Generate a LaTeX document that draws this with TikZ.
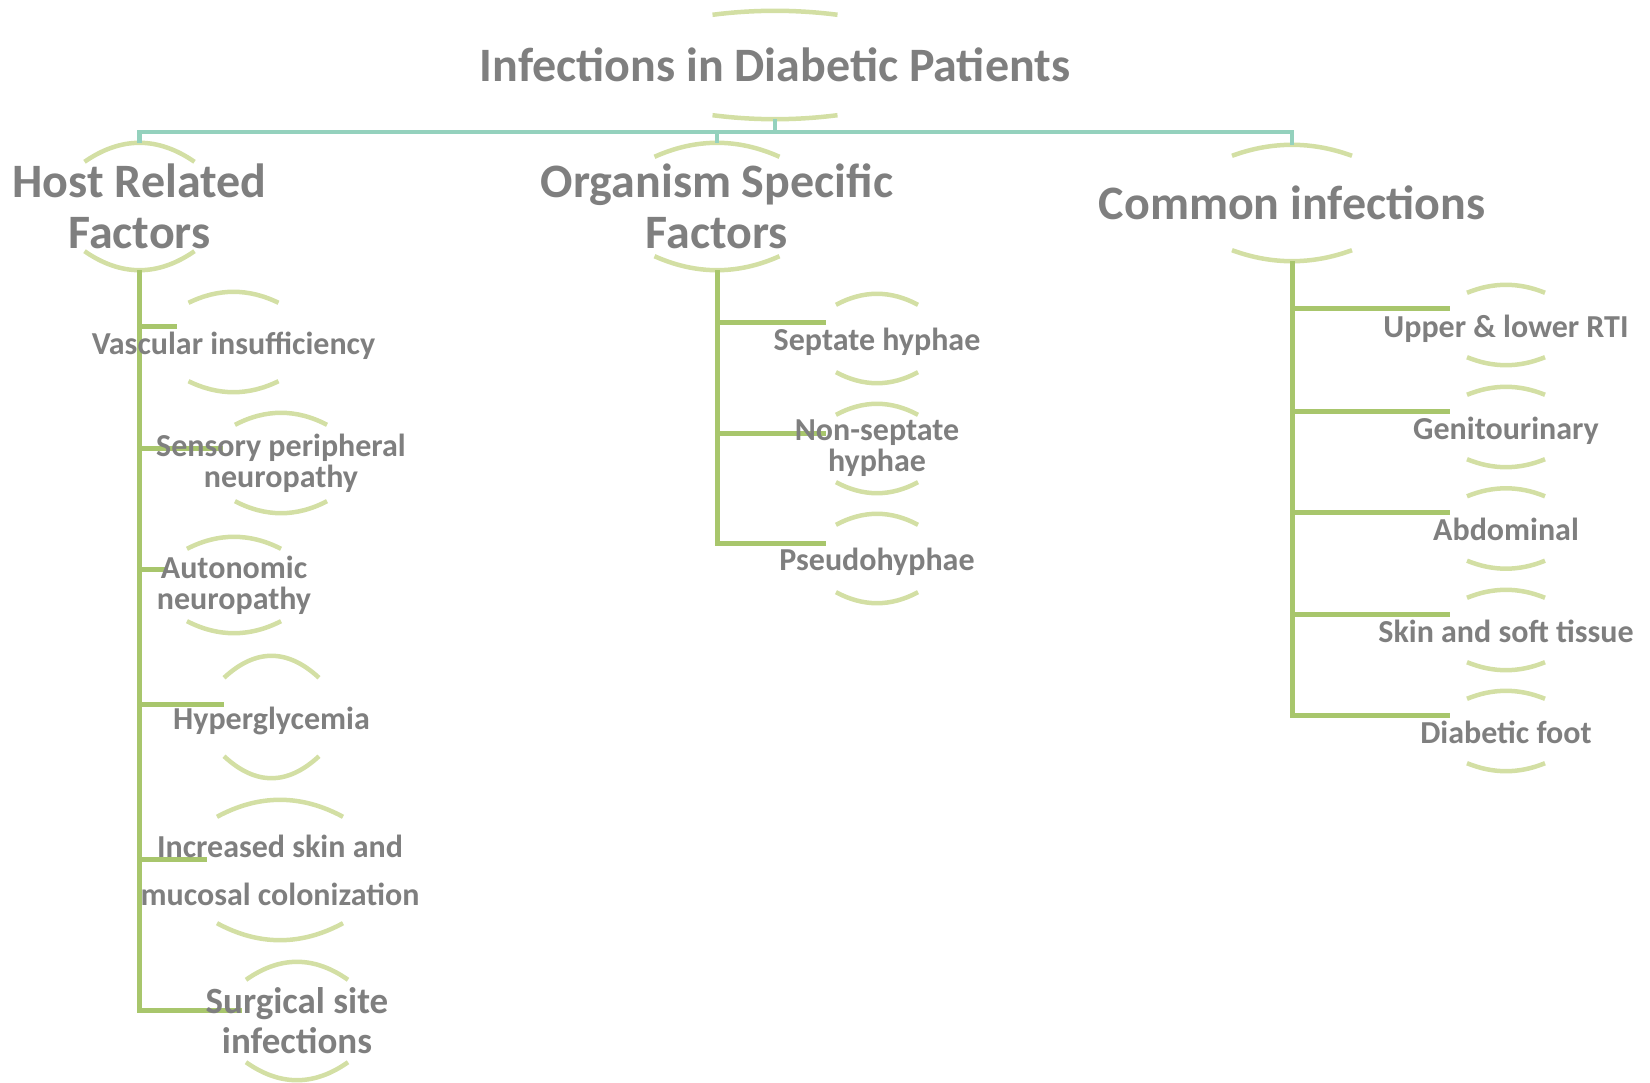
\documentclass[tikz,border=0pt]{standalone}
\usepackage{fontspec}
\setmainfont{Carlito}
\usetikzlibrary{calc}
\usetikzlibrary{backgrounds}

\definecolor{txtgray}{HTML}{7F7F7F}
\definecolor{arcgreen}{HTML}{D3DFA4}
\definecolor{linegreen}{HTML}{A8C66C}
\definecolor{tealline}{HTML}{94D1BD}

% upper and lower arc of a box: node, half width, sag
\newcommand{\boxarcs}[3]{%
  \draw[arcline] ($(#1.north)+(-#2,#3)$) .. controls ($(#1.north)+(-#2/3,-#3/3)$) and ($(#1.north)+(#2/3,-#3/3)$) .. ($(#1.north)+(#2,#3)$);
  \draw[arcline] ($(#1.south)+(-#2,-#3)$) .. controls ($(#1.south)+(-#2/3,#3/3)$) and ($(#1.south)+(#2/3,#3/3)$) .. ($(#1.south)+(#2,-#3)$);
}

\begin{document}
\begin{tikzpicture}[x=1pt,y=-1pt]
        % Define styles for shapes
        \tikzset{
            topbox/.style={inner sep=0pt, text=txtgray, align=center, font=\bfseries\fontsize{48}{51}\selectfont},
            headbox/.style={inner sep=0pt, text=txtgray, align=center, font=\bfseries\fontsize{48}{51}\selectfont},
            itembox/.style={inner sep=0pt, text=txtgray, align=center, font=\bfseries\fontsize{32}{31}\selectfont},
            oneline/.style={text height=27pt, text depth=2.4pt},
            arcline/.style={draw=arcgreen, line width=4.5pt},
            toplink/.style={draw=tealline, line width=4.5pt},
            sublink/.style={draw=linegreen, line width=5pt}
        }
        \useasboundingbox (0,0) rectangle (1650,1083);
        % Draw shapes
        \node[topbox, minimum height=108pt] (top) at (775,65) {Infections in Diabetic Patients};

        \node[headbox, minimum height=127pt] (host) at (139.5,206.5) {Host Related\\Factors};
        \node[headbox, minimum height=127pt] (org) at (717,206.5) {Organism Specific\\Factors};
        \node[headbox, minimum height=116pt] (common) at (1292,203) {Common infections};

        \node[itembox, oneline, minimum height=100pt] (vasc) at (233.5,342) {Vascular insufficiency};
        \node[itembox, minimum height=100pt] (sens) at (281,463) {Sensory peripheral\\neuropathy};
        \node[itembox, minimum height=96pt] (auto) at (234,585) {Autonomic\\neuropathy};
        \node[itembox, oneline, minimum height=122pt] (hyper) at (271.5,717) {Hyperglycemia};
        \node[itembox, minimum height=140pt, font=\bfseries\fontsize{32}{48}\selectfont] (incr) at (280,870) {Increased skin and\\mucosal colonization};
        \node[itembox, minimum height=118pt, font=\bfseries\fontsize{37}{40}\selectfont] (surg) at (297,1021) {Surgical site\\infections};

        \node[itembox, oneline, minimum height=89pt] (sept) at (877,338.5) {Septate hyphae};
        \node[itembox, minimum height=89pt] (nonsept) at (877,448.5) {Non-septate\\hyphae};
        \node[itembox, oneline, minimum height=89pt] (pseudo) at (877,558.5) {Pseudohyphae};

        \node[itembox, oneline, minimum height=80pt] (rti) at (1506,325) {Upper \& lower RTI};
        \node[itembox, oneline, minimum height=80pt] (genito) at (1506,427) {Genitourinary};
        \node[itembox, oneline, minimum height=80pt] (abdo) at (1506,528.5) {Abdominal};
        \node[itembox, oneline, minimum height=80pt] (skin) at (1506,630) {Skin and soft tissue};
        \node[itembox, oneline, minimum height=80pt] (foot) at (1506,731) {Diabetic foot};

        \begin{pgfonlayer}{background}
        % Draw arcs
        \boxarcs{top}{62.5}{4}
        \boxarcs{host}{55}{19}
        \boxarcs{org}{62.5}{14}
        \boxarcs{common}{60}{11}
        \boxarcs{vasc}{45}{11}
        \boxarcs{sens}{46}{12}
        \boxarcs{auto}{47}{12}
        \boxarcs{hyper}{47.5}{22}
        \boxarcs{incr}{63}{17}
        \boxarcs{surg}{51}{18}
        \foreach \n in {sept, nonsept, pseudo}
            \boxarcs{\n}{41}{11};
        \foreach \n in {rti, genito, abdo, skin, foot}
            \boxarcs{\n}{39}{8};
        % Draw lines
        \draw[toplink] (top.south) -- ++(0,13) -| (host.north);
        \draw[toplink] (top.south) -- ++(0,13) -| (org.north);
        \draw[toplink] (top.south) -- ++(0,13) -| (common.north);
        \foreach \n/\dx/\dy in {vasc/56.5/15, sens/58/15, auto/66/16, hyper/47.5/13, incr/73/11, surg/55/11}
            \draw[sublink] (host.south) |- ($(\n.center)+(-\dx,-\dy)$);
        \foreach \n in {sept, nonsept, pseudo}
            \draw[sublink] (org.south) |- ($(\n.center)+(-51,-15.5)$);
        \foreach \n in {rti, genito, abdo, skin, foot}
            \draw[sublink] (common.south) |- ($(\n.center)+(-56,-16)$);
        \end{pgfonlayer}
    \end{tikzpicture}
\end{document}
